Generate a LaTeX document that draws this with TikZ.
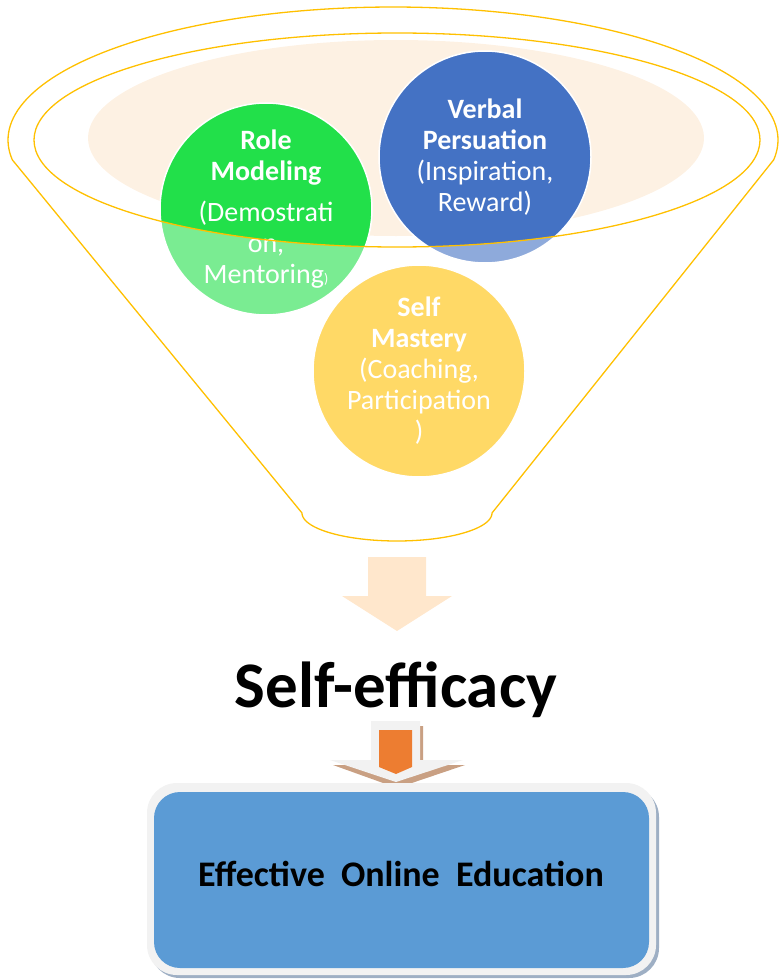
\documentclass[tikz,border=0pt]{standalone}
\usepackage{fontspec}
\setmainfont{Carlito}
\definecolor{gold}{HTML}{FFC000}
\definecolor{peach}{HTML}{FDF1E3}
\definecolor{rgreen}{HTML}{22E04A}
\definecolor{rblue}{HTML}{4472C4}
\definecolor{ryellow}{HTML}{FFC000}
\definecolor{arrowpeach}{HTML}{FFE7CC}
\definecolor{orangefill}{HTML}{ED7D31}
\definecolor{shadowbrown}{HTML}{C9A083}
\definecolor{boxblue}{HTML}{5B9BD5}
\definecolor{boxrim}{HTML}{F2F2F2}
\definecolor{boxshadow}{HTML}{9EAFC4}
\begin{document}
\begin{tikzpicture}[x=1pt,y=-1pt,
  rim/.style={draw=gold, line width=1.3pt},
  circ/.style={circle, draw=white, line width=1.5pt, minimum size=212pt, inner sep=0pt,
    text=white, align=center, font=\fontsize{28}{31}\selectfont},
  bigtext/.style={font=\fontsize{65}{65}\selectfont\bfseries, inner sep=0pt, anchor=base},
  boxtext/.style={font=\fontsize{36}{36}\selectfont\bfseries, inner sep=0pt, anchor=base}]
\useasboundingbox (0,0) rectangle (783,979);

% peach inner fill
\fill[peach] (396,138) ellipse [x radius=308, y radius=98];

% circles
\node[circ, fill=rgreen] (role) at (266,209)
  {{\bfseries Role}\\{\bfseries Modeling}\\[10pt](Demostrati\\on,\\Mentoring{\fontsize{14}{14}\selectfont)}};
\node[circ, fill=rblue] (verbal) at (485,157)
  {{\bfseries Verbal}\\{\bfseries Persuation}\\(Inspiration,\\Reward)};
\node[circ, fill=ryellow] (mastery) at (419,371)
  {{\bfseries Self}\\{\bfseries Mastery}\\(Coaching,\\Participation\\)};

% translucent front of the funnel
\fill[white, fill opacity=0.4, even odd rule]
  plot[domain=171.4:368.6, samples=120] ({393+385*cos(\x)},{140+133*sin(\x)})
  -- (492,513)
  -- plot[domain=0:180, samples=60] ({397+95*cos(\x)},{513+28*sin(\x)})
  -- cycle
  (397,140) ellipse [x radius=363, y radius=107];

% funnel outlines
\draw[rim] (397,140) ellipse [x radius=363, y radius=107];
\draw[rim, line join=round]
  plot[domain=171.4:368.6, samples=120] ({393+385*cos(\x)},{140+133*sin(\x)})
  -- (492,513)
  -- plot[domain=0:180, samples=60] ({397+95*cos(\x)},{513+28*sin(\x)})
  -- cycle;

% peach arrow
\fill[arrowpeach] (368,557) -- (426,557) -- (426,596) -- (452,596) -- (397,631)
  -- (342,596) -- (368,596) -- cycle;

% Self-efficacy
\node[bigtext] (se) at (396,707) {Self-efficacy};

% small orange arrow
\fill[shadowbrown] (373,726) -- (423,726) -- (423,765) -- (465,765) -- (397,788)
  -- (333,765) -- (373,765) -- cycle;
\fill[boxrim] (371,721) -- (420,721) -- (420,760) -- (463,760) -- (396,782)
  -- (330,760) -- (371,760) -- cycle;
\fill[orangefill] (379,730) -- (412,730) -- (412,767) -- (396,774) -- (379,767) -- cycle;

% bottom box
\fill[boxshadow, rounded corners=30pt] (150,787) rectangle (659,978);
\fill[boxrim, rounded corners=30pt] (147,783) rectangle (656,975);
\node[fill=boxblue, rounded corners=26pt, minimum width=495pt, minimum height=176pt,
  inner sep=0pt] (eoebox) at (401.5,880) {};
\node[boxtext] (eoe) at (401,886) {Effective\hspace{0.45em}Online\hspace{0.45em}Education};
\end{tikzpicture}
\end{document}
